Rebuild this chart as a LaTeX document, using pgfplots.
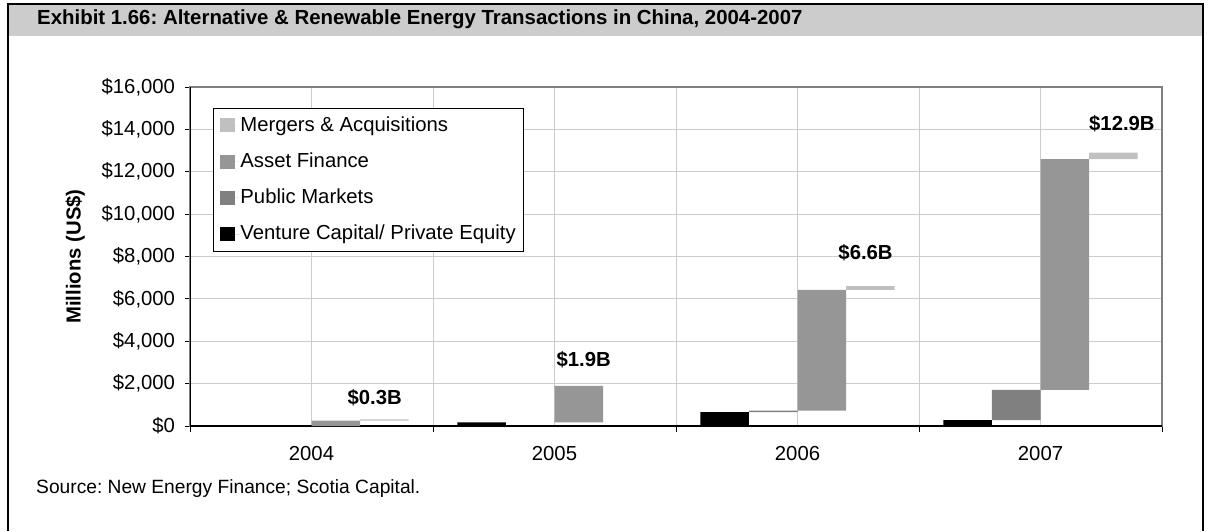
\documentclass[border=0pt]{standalone}
\usepackage{pgfplots}
\pgfplotsset{compat=1.18}
\usepackage{fontspec}
\setmainfont{Liberation Sans}
\definecolor{mna}{HTML}{C0C0C0}
\definecolor{af}{HTML}{969696}
\definecolor{pm}{HTML}{808080}
\definecolor{gridc}{HTML}{CCCCCC}
\definecolor{band}{HTML}{CCCCCC}
\begin{document}
\frenchspacing
\begin{tikzpicture}
\fontsize{20.3}{24}\selectfont
\path[use as bounding box] (0,0) rectangle (1209pt,531pt);
\fill[band] (8pt,495pt) rectangle (1203pt,527pt);
\draw[line width=2.5pt] (8pt,0pt) -- (8pt,527pt) -- (1203pt,527pt) -- (1203pt,0pt);
\node[anchor=west,font=\bfseries\fontsize{20.4}{24}\selectfont,inner sep=0pt] at (37pt,512pt) {Exhibit 1.66: Alternative \& Renewable Energy Transactions in China, 2004-2007};
\node[anchor=west,inner sep=0pt,font=\fontsize{19.2}{23}\selectfont] at (36pt,42pt) {Source: New Energy Finance; Scotia Capital.};
\begin{axis}[
  at={(190pt,105pt)}, anchor=south west,
  width=972pt, height=339pt, scale only axis,
  ybar stacked, bar width=0.2,
  xmin=-0.5, xmax=3.5, ymin=0, ymax=16000,
  xtick={0,1,2,3}, xticklabels={2004,2005,2006,2007},
  minor xtick={-0.5,0.5,1.5,2.5,3.5},
  major x tick style={/pgfplots/major tick length=0pt},
  ytick={0,2000,...,16000},
  grid=both,
  major grid style={gridc, line width=0.9pt},
  minor grid style={gridc, line width=0.9pt},
  tick align=outside, tick pos=left,
  major tick length=5pt, minor tick length=6pt,
  tick style={black, line width=0.9pt},
  axis line style={pm, line width=1.2pt},
  scaled y ticks=false,
  /pgf/number format/assume math mode=true,
  yticklabel={\$\pgfmathprintnumber[fixed,precision=0,1000 sep={,}]{\tick}},
  yticklabel style={xshift=-3pt},
  xticklabel style={yshift=-8pt},
  ylabel={\bfseries Millions (US\$)},
  ylabel style={at={(axis description cs:-0.118,0.5)}, anchor=center},
  legend style={at={(rel axis cs:0.0237,0.938)}, anchor=north west, draw=black, line width=0.8pt,
    row sep=16.5pt, inner sep=7pt, nodes={inner sep=1pt, anchor=west}},
  legend cell align=left, reverse legend,
  legend image code/.code={\fill[#1] (0pt,-7pt) rectangle (15pt,7pt); \path (0pt,0pt) -- (19pt,0pt);},
]
\addplot[fill=black, draw=none, bar shift=-0.3] coordinates {(0,0) (1,170) (2,650) (3,280)};
\addlegendentry{Venture Capital/ Private Equity}
\addplot[fill=pm, draw=none, bar shift=-0.1] coordinates {(0,0) (1,0) (2,70) (3,1420)};
\addlegendentry{Public Markets}
\addplot[fill=af, draw=none, bar shift=0.1] coordinates {(0,250) (1,1720) (2,5700) (3,10900)};
\addlegendentry{Asset Finance}
\addplot[fill=mna, draw=none, bar shift=0.3] coordinates {(0,60) (1,0) (2,180) (3,300)};
\addlegendentry{Mergers \& Acquisitions}
\draw[black, line width=1.2pt] (rel axis cs:0,1) -- (rel axis cs:0,0) -- (rel axis cs:1,0);
\node[font=\bfseries] at (axis cs:0.26,1320) {\$0.3B};
\node[font=\bfseries] at (axis cs:1.12,3115) {\$1.9B};
\node[font=\bfseries] at (axis cs:2.28,8166) {\$6.6B};
\node[font=\bfseries] at (axis cs:3.335,14254) {\$12.9B};
\end{axis}
\end{tikzpicture}
\end{document}
